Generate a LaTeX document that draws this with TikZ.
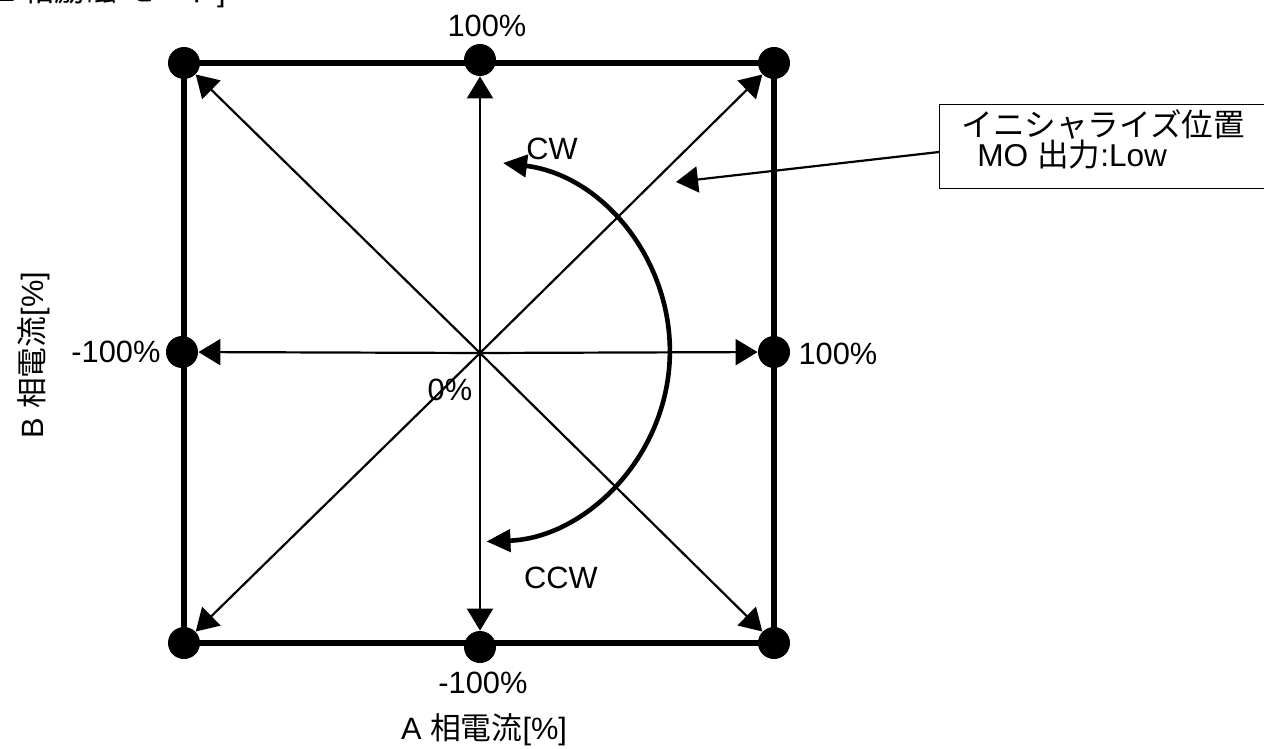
\documentclass[tikz,border=0pt]{standalone}
\usepackage{fontspec}
\setmainfont{Liberation Sans}
\newfontfamily\jp{Noto Sans CJK JP}
\usetikzlibrary{arrows.meta,calc}
\tikzset{
  dot/.style={circle,fill=black,inner sep=0pt,minimum size=16pt},
  thinarrow/.style={line width=1.1pt,-{Triangle[length=11pt,width=13pt]}},
  arcarrow/.style={line width=2.3pt,{Triangle[length=12pt,width=11pt]}-{Triangle[length=12pt,width=11pt]}},
  frame/.style={line width=3.2pt},
  lbl/.style={font=\fontsize{15.4pt}{18pt}\selectfont,inner sep=0pt},
  boxlbl/.style={font=\fontsize{15.8pt}{18pt}\selectfont,inner sep=0pt},
  infobox/.style={draw,line width=0.6pt,inner sep=0pt,anchor=north west,minimum width=170pt,minimum height=42pt}
}
\begin{document}
\begin{tikzpicture}[x=0.5pt,y=-0.5pt]
\useasboundingbox (0,0) rectangle (1264,749);
% cut-off title
\node[lbl,anchor=base east] (title) at (226,2) {[2 {\jp 相励磁} {\jp モード}]};
% frame
\draw[frame] (184,63) rectangle (774,643);
% dots
\node[dot] (tl) at (184,63) {};
\node[dot] (tr) at (774,63) {};
\node[dot] (bl) at (184,643) {};
\node[dot] (br) at (774,643) {};
\node[dot] (tm) at (480,60) {};
\node[dot] (bm) at (480,647) {};
\node[dot] (lm) at (182,352) {};
\node[dot] (rm) at (774,352) {};
\coordinate (c) at (480,353);
% arrows
\foreach \t in {tl,tr,bl,br,tm,bm,lm,rm}{\draw[thinarrow] (c) -- (\t);}
% CW/CCW arc
\coordinate (arcstart) at (503,163);
\draw[arcarrow] (arcstart) arc[start angle=83,end angle=-88,radius=95pt];
% labels
\node[lbl,anchor=base] (ltop) at (487,37) {100\%};
\node[lbl,anchor=base] (lbot) at (483,693) {-100\%};
\node[lbl,anchor=base] (lleft) at (116,362) {-100\%};
\node[lbl,anchor=base] (lright) at (838,364) {100\%};
\node[lbl,anchor=base] (lzero) at (450,400) {0\%};
\node[lbl,anchor=base] (lcw) at (552,160) {CW};
\node[lbl,anchor=base] (lccw) at (561,588) {CCW};
\node[lbl,anchor=base] (xlab) at (484,739) {A {\jp 相電流}[\%]};
\node[lbl,anchor=base,rotate=90] (ylab) at (43,355) {B {\jp 相電流}[\%]};
% info box
\node[infobox] (box) at (939,104) {};
\node[boxlbl,anchor=base west] (bt1) at (961,137) {\jp イニシャライズ位置};
\node[boxlbl,anchor=base west] (bt2) at (977,167) {MO {\jp 出力}:Low};
\coordinate (boxpt) at (939,152);
\coordinate (initpos) at (676,182);
\draw[thinarrow] (boxpt) -- (initpos);
\end{tikzpicture}
\end{document}
